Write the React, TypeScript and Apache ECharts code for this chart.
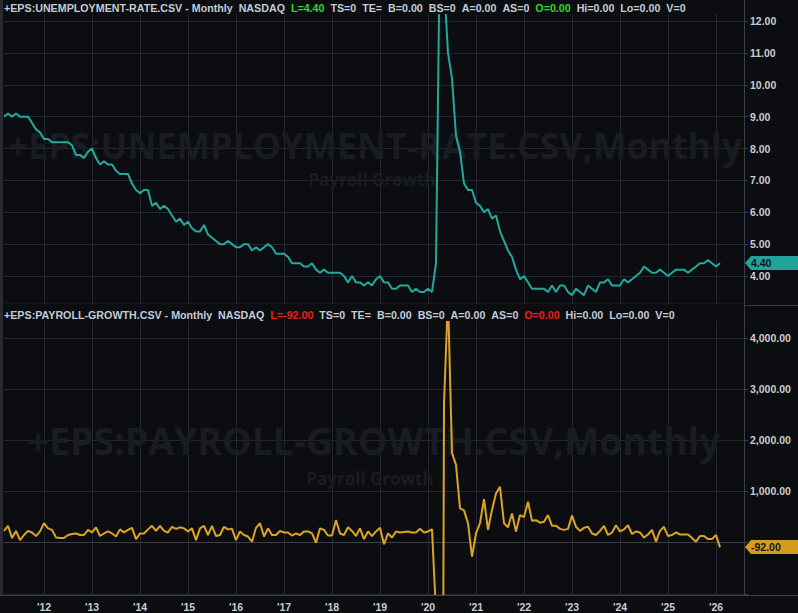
import React, { useEffect, useRef } from 'react';
import * as echarts from 'echarts';

// ---- data ----
const START_YEAR = 2011;
const START_MONTH = 3; // March 2011 is the first month of both series
const MONTH_SLOTS = 186; // axis extends a few months past the last value

// monthly unemployment rate (%), Mar 2011 onward
const unemploymentRate = [
  9.0, 9.1, 9.0, 9.1, 9.0, 9.0, 9.0, 8.8, 8.6, 8.5,
  8.3, 8.3, 8.2, 8.2, 8.2, 8.2, 8.2, 8.1, 7.8, 7.8,
  7.7, 7.9, 8.0, 7.7, 7.5, 7.6, 7.5, 7.5, 7.3, 7.2,
  7.2, 7.2, 6.9, 6.7, 6.6, 6.7, 6.7, 6.2, 6.3, 6.1,
  6.2, 6.1, 5.9, 5.7, 5.8, 5.6, 5.7, 5.5, 5.4, 5.4,
  5.6, 5.3, 5.2, 5.1, 5.0, 5.0, 5.1, 5.0, 4.9, 4.9,
  5.0, 5.0, 4.8, 4.9, 4.8, 4.9, 5.0, 4.9, 4.7, 4.7,
  4.7, 4.6, 4.4, 4.4, 4.4, 4.3, 4.3, 4.4, 4.2, 4.1,
  4.2, 4.1, 4.1, 4.1, 4.1, 4.0, 3.8, 4.0, 3.8, 3.8,
  3.7, 3.8, 3.7, 3.9, 4.0, 3.8, 3.8, 3.6, 3.6, 3.7,
  3.7, 3.7, 3.5, 3.6, 3.5, 3.5, 3.6, 3.5, 4.4, 14.8,
  13.2, 11.0, 10.2, 8.4, 7.9, 6.9, 6.7, 6.7, 6.3, 6.2,
  6.0, 6.1, 5.8, 5.9, 5.4, 5.1, 4.8, 4.6, 4.2, 3.9,
  4.0, 3.8, 3.6, 3.6, 3.6, 3.6, 3.5, 3.7, 3.5, 3.7,
  3.7, 3.5, 3.4, 3.6, 3.5, 3.4, 3.7, 3.6, 3.5, 3.8,
  3.8, 3.9, 3.7, 3.7, 3.7, 3.9, 3.8, 3.9, 4.0, 4.1,
  4.3, 4.2, 4.1, 4.1, 4.2, 4.1, 4.0, 4.1, 4.2, 4.2,
  4.2, 4.1, 4.2, 4.3, 4.4, 4.4, 4.5, 4.4, 4.3, 4.4,
];

// monthly payroll growth (thousands), Mar 2011 onward
const payrollGrowth = [
  230, 330, 90, 230, 50, 150, 230, 200, 130, 220,
  380, 280, 250, 100, 90, 90, 150, 170, 180, 150,
  150, 250, 200, 300, 130, 180, 220, 180, 120, 260,
  200, 250, 290, 70, 180, 180, 260, 330, 230, 330,
  230, 200, 310, 270, 300, 280, 220, 280, 50, 280,
  330, 150, 330, 130, 150, 310, 260, 270, 50, 220,
  150, 120, 20, 290, 380, 120, 280, 150, 150, 230,
  200, 200, 140, 180, 150, 220, 220, 180, 0, 280,
  250, 140, 140, 440, 180, 150, 300, 230, 130, 280,
  70, 220, 130, 220, 290, -30, 180, 100, 220, 200,
  210, 220, 200, 200, 270, 200, 220, 260, -1370, -20500,
  2720, 4800, 1750, 1520, 670, 630, 380, -270, 180, 380,
  850, 250, 640, 960, 1090, 380, 300, 570, 220, 540,
  500, 800, 430, 440, 390, 410, 540, 330, 330, 270,
  250, 270, 530, 310, 230, 290, 310, 180, 150, 230,
  330, 150, 200, 340, 220, 260, 340, 170, 220, 200,
  100, 160, 250, 20, 230, 310, 130, 150, 200, 160,
  160, 160, 90, 20, 130, 130, 70, 70, 150, -92,
];

const months: string[] = [];
for (let i = 0; i < MONTH_SLOTS; i++) {
  const t = START_MONTH - 1 + i;
  const y = START_YEAR + Math.floor(t / 12);
  const m = (t % 12) + 1;
  months.push(`${y}-${String(m).padStart(2, '0')}`);
}
const isJanuary = (_i: number, v: string) => String(v).endsWith('-01');

// ---- styles ----
const BG = '#0c0d10';
const GRID = '#24262d';
const AXIS = '#3a3d45';
const LABEL = '#c9ccd3';
const HEAD = '#c3cbd8';
const TEAL = '#22a89c';
const GOLD = '#dba424';
const WATER = '#191c22';
const FONT = '"Liberation Sans", Arial, sans-serif';

const nb = (s: string) => s.replace(/ /g, '\u00a0');

function header(name: string, last: number, accent: 'g' | 'r') {
  const L = `L=${last.toFixed(2)}`;
  return (
    `{n|${nb(`+EPS:${name}.CSV - Monthly  NASDAQ  `)}}` +
    `{${accent}|${L}}` +
    `{n|${nb('  TS=0  TE=  B=0.00  BS=0  A=0.00  AS=0  ')}}` +
    `{${accent}|O=0.00}` +
    `{n|${nb('  Hi=0.00  Lo=0.00  V=0')}}`
  );
}

const headRich = {
  n: { fill: HEAD, font: `bold 10.7px ${FONT}` },
  g: { fill: '#2fd62f', font: `bold 10.7px ${FONT}` },
  r: { fill: '#f01c1c', font: `bold 10.7px ${FONT}` },
};

const yLabel = {
  color: LABEL,
  fontFamily: FONT,
  fontWeight: 'bold' as const,
  fontSize: 10.5,
  margin: 6,
};

function baseGraphics() {
  const lastRate = unemploymentRate[unemploymentRate.length - 1];
  const lastPay = payrollGrowth[payrollGrowth.length - 1];
  return [
    { type: 'rect', id: 'leftStrip', z: 30, shape: { x: 0, y: 0, width: 3, height: 595 }, style: { fill: '#2a2b30' } },
    { type: 'text', id: 'wm1', z: 1, x: 375, y: 145, style: { text: '+EPS:UNEMPLOYMENT-RATE.CSV,Monthly', fill: WATER, font: 'bold 35.7px "Open Sans", sans-serif', align: 'center', verticalAlign: 'middle' } },
    { type: 'text', id: 'wm1b', z: 1, x: 372, y: 179, style: { text: 'Payroll Growth', fill: WATER, font: 'bold 17px "Open Sans", sans-serif', align: 'center', verticalAlign: 'middle' } },
    { type: 'text', id: 'wm2', z: 1, x: 374, y: 440, style: { text: '+EPS:PAYROLL-GROWTH.CSV,Monthly', fill: WATER, font: 'bold 37.4px "Open Sans", sans-serif', align: 'center', verticalAlign: 'middle' } },
    { type: 'text', id: 'wm2b', z: 1, x: 370, y: 478, style: { text: 'Payroll Growth', fill: WATER, font: 'bold 17px "Open Sans", sans-serif', align: 'center', verticalAlign: 'middle' } },
    { type: 'rect', id: 'band1', z: 20, shape: { x: 3, y: 0, width: 741, height: 14 }, style: { fill: BG } },
    { type: 'rect', id: 'band2', z: 20, shape: { x: 3, y: 303.5, width: 741, height: 17.5 }, style: { fill: BG } },
    { type: 'text', id: 'head1', z: 21, x: 4, y: 8, style: { text: header('UNEMPLOYMENT-RATE', lastRate, 'g'), rich: headRich, verticalAlign: 'middle' } },
    { type: 'text', id: 'head2', z: 21, x: 4, y: 315, style: { text: header('PAYROLL-GROWTH', lastPay, 'r'), rich: headRich, verticalAlign: 'middle' } },
    { type: 'line', id: 'sep', z: 21, shape: { x1: 744, y1: 305.5, x2: 798, y2: 305.5 }, style: { stroke: AXIS, lineWidth: 1 } },
    { type: 'line', id: 'vline', z: 21, shape: { x1: 744.5, y1: 0, x2: 744.5, y2: 595 }, style: { stroke: AXIS, lineWidth: 1 } },
    { type: 'line', id: 'xext', z: 21, shape: { x1: 0, y1: 595.5, x2: 798, y2: 595.5 }, style: { stroke: AXIS, lineWidth: 1 } },
  ];
}

function badge(id: string, y: number, text: string, fill: string) {
  return {
    type: 'group',
    id,
    z: 25,
    children: [
      { type: 'polygon', z: 25, shape: { points: [[745, y], [751, y - 7], [798, y - 7], [798, y + 7], [751, y + 7]] }, style: { fill } },
      { type: 'text', z: 26, x: 751, y, style: { text, fill: '#101216', font: `bold 10.5px ${FONT}`, verticalAlign: 'middle' } },
    ],
  };
}

const option: any = {
  backgroundColor: BG,
  animation: false,
  grid: [
    { left: 4, right: 54, top: 0, height: 303 },
    { left: 4, right: 54, top: 306, height: 289 },
  ],
  xAxis: [
    {
      type: 'category', gridIndex: 0, data: months, boundaryGap: false,
      axisLine: { show: false }, axisTick: { show: false, interval: isJanuary },
      axisLabel: { show: false, interval: isJanuary },
      splitLine: { show: true, interval: isJanuary, lineStyle: { color: GRID, width: 1 } },
    },
    {
      type: 'category', gridIndex: 1, data: months, boundaryGap: false,
      axisLine: { show: true, lineStyle: { color: AXIS } },
      axisTick: { show: false, interval: isJanuary },
      axisLabel: {
        interval: isJanuary, formatter: (v: string) => "'" + v.slice(2, 4),
        color: LABEL, fontFamily: FONT, fontWeight: 'bold', fontSize: 10.5, margin: 6,
      },
      splitLine: { show: true, interval: isJanuary, lineStyle: { color: GRID, width: 1 } },
    },
  ],
  yAxis: [
    {
      type: 'value', gridIndex: 0, position: 'right', min: 3.153, max: 12.659, splitNumber: 9,
      axisLine: { show: true, lineStyle: { color: AXIS } },
      axisTick: { show: true, length: 4, lineStyle: { color: AXIS } },
      axisLabel: { ...yLabel, showMinLabel: false, showMaxLabel: false, formatter: (v: number) => (Number.isInteger(v) ? v.toFixed(2) : '') },
      splitLine: { show: true, lineStyle: { color: GRID, width: 1 } },
    },
    {
      type: 'value', gridIndex: 1, position: 'right', min: -1021, max: 4620, splitNumber: 5,
      axisLine: { show: true, lineStyle: { color: AXIS } },
      axisTick: { show: true, length: 4, lineStyle: { color: AXIS } },
      axisLabel: {
        ...yLabel, showMinLabel: false, showMaxLabel: false,
        formatter: (v: number) => (v >= 0 && v % 1000 === 0 && v > 0
          ? v.toLocaleString('en-US', { minimumFractionDigits: 2, maximumFractionDigits: 2 }) : ''),
      },
      splitLine: { show: true, lineStyle: { color: GRID, width: 1 } },
    },
  ],
  series: [
    {
      type: 'line', xAxisIndex: 0, yAxisIndex: 0, data: unemploymentRate, symbol: 'none',
      lineStyle: { color: TEAL, width: 2 }, itemStyle: { color: TEAL }, z: 5,
    },
    {
      type: 'line', xAxisIndex: 1, yAxisIndex: 1, data: payrollGrowth, symbol: 'none',
      lineStyle: { color: GOLD, width: 2 }, itemStyle: { color: GOLD }, z: 5,
    },
  ],
  graphic: { elements: baseGraphics() },
};

export default function App() {
  const ref = useRef<HTMLDivElement>(null);
  useEffect(() => {
    if (!ref.current) return;
    const chart = echarts.init(ref.current, null, { renderer: 'svg' });
    chart.setOption(option);
    const lastRate = unemploymentRate[unemploymentRate.length - 1];
    const lastPay = payrollGrowth[payrollGrowth.length - 1];
    const yR = chart.convertToPixel({ yAxisIndex: 0 } as any, lastRate) as unknown as number;
    const yP = chart.convertToPixel({ yAxisIndex: 1 } as any, lastPay) as unknown as number;
    chart.setOption({
      graphic: {
        elements: [
          ...baseGraphics(),
          badge('badgeRate', Math.round(yR), lastRate.toFixed(2), '#22a39a'),
          badge('badgePay', Math.round(yP), lastPay.toFixed(2), '#d49c1f'),
        ],
      },
    });
    return () => chart.dispose();
  }, []);
  return <div ref={ref} style={{ position: 'fixed', left: 0, top: 0, width: 798, height: 613 }} />;
}
